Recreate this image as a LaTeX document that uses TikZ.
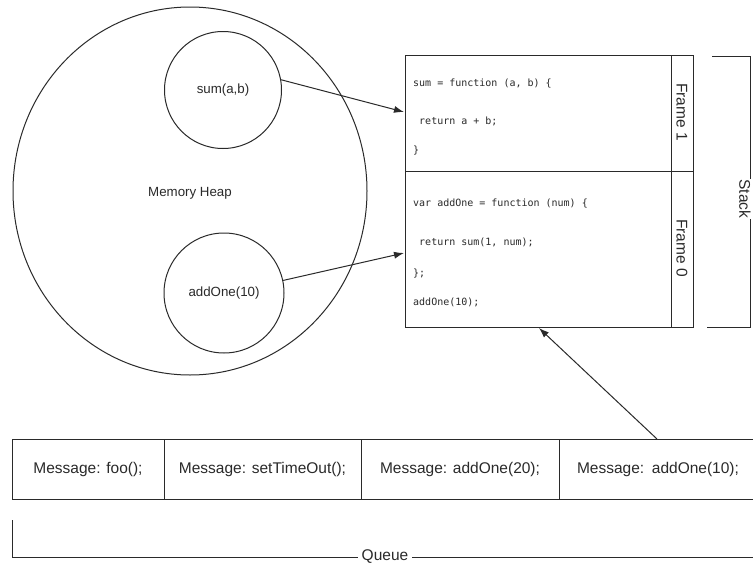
\documentclass[tikz,border=0pt]{standalone}
\usepackage{fontspec}
\setmainfont{Liberation Sans}
\newfontfamily\codefont{DejaVu Sans Mono}
\usetikzlibrary{arrows.meta,shapes.geometric}
\definecolor{ink}{HTML}{2A2A2A}
\begin{document}
\begin{tikzpicture}[x=1pt,y=-1pt,
  line/.style={draw=ink,line width=1pt},
  heaptext/.style={text=ink,font=\fontsize{13.3}{15}\selectfont},
  msgbox/.style={line,rectangle,minimum height=60pt,inner sep=0pt,text=ink,font=\fontsize{15.5}{18}\selectfont},
  codeline/.style={anchor=base west,inner sep=0pt,text=ink,font=\codefont\fontsize{10}{12}\selectfont},
  vlabel/.style={rotate=-90,text=ink,font=\fontsize{15.5}{18}\selectfont,inner sep=1pt},
  arr/.style={line,-{Latex[length=10pt,width=7pt]}}
]
\clip (0,0) rectangle (753,565);
\fill[white] (0,0) rectangle (753,565);

% Memory heap
\node[line,ellipse,minimum width=354pt,minimum height=368pt,inner sep=0pt] (heap) at (190,191) {};
\node[heaptext] (heaplabel) at (190,193) {Memory Heap};
\node[line,circle,minimum size=117pt,inner sep=0pt,heaptext] (sum) at (223,90) {sum(a,b)};
\node[line,circle,minimum size=120pt,inner sep=0pt,heaptext] (addone) at (224,293) {addOne(10)};

% Stack
\node[line,rectangle,minimum width=266pt,minimum height=116pt,inner sep=0pt] (frame1) at (538,113) {};
\node[line,rectangle,minimum width=266pt,minimum height=156pt,inner sep=0pt] (frame0) at (538,249) {};
\node[line,rectangle,minimum width=22pt,minimum height=116pt,inner sep=0pt] (f1col) at (682,113) {};
\node[line,rectangle,minimum width=22pt,minimum height=156pt,inner sep=0pt] (f0col) at (682,249) {};
\node[vlabel] (f1lab) at (682,112) {Frame 1};
\node[vlabel] (f0lab) at (682,248) {Frame 0};

\node[codeline] (c1) at (413,86.5) {sum = function (a, b) \{};
\node[codeline] (c2) at (413,124.5) {\ return a + b;};
\node[codeline] (c3) at (413,153.5) {\}};
\node[codeline] (c4) at (413,206.5) {var addOne = function (num) \{};
\node[codeline] (c5) at (413,245.5) {\ return sum(1, num);};
\node[codeline] (c6) at (413,276.5) {\};};
\node[codeline] (c7) at (413,305.5) {addOne(10);};

% Stack bracket
\coordinate (sbt1) at (712,56);
\coordinate (sbt2) at (750,56);
\coordinate (sbb2) at (750,327);
\coordinate (sbb1) at (707,327);
\draw[line] (sbt1) -- (sbt2) -- (sbb2) -- (sbb1);
\node[vlabel,fill=white,inner sep=0.5pt] (stacklab) at (745,199) {Stack};

% Queue
\node[msgbox,minimum width=152pt] (m1) at (88,469) {Message: foo();};
\node[msgbox,minimum width=197pt] (m2) at (262.5,469) {Message: setTimeOut();};
\node[msgbox,minimum width=198pt] (m3) at (460,469) {Message: addOne(20);};
\node[msgbox,minimum width=200pt,text width=200pt,align=left] (m4) at (659,469) {\hspace*{18pt}Message: addOne(10);};

% Queue bracket
\coordinate (qb1) at (12,520);
\coordinate (qb2) at (12,557);
\coordinate (qb3) at (760,557);
\draw[line] (qb1) -- (qb2) -- (qb3);
\node[fill=white,text=ink,font=\fontsize{15.5}{18}\selectfont,inner sep=4pt] (queuelab) at (385,557) {Queue};

% Arrows
\coordinate (t1) at (404,112);
\coordinate (t2) at (404,253);
\coordinate (qs) at (657,439);
\coordinate (t3) at (539,328);
\draw[arr] (sum.10) -- (t1);
\draw[arr] (addone.12) -- (t2);
\draw[arr] (qs) -- (t3);
\end{tikzpicture}
\end{document}
